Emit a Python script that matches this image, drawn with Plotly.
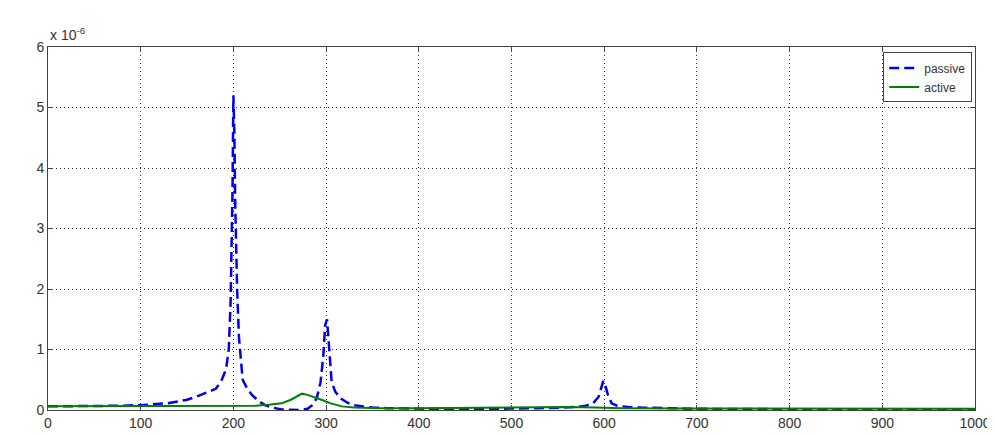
import plotly.graph_objects as go

# frequency axis values and responses (units of 1e-6)
passive_x = [0, 25, 50, 75, 100, 115, 128, 140, 150, 160, 170, 181, 187, 192, 195, 197, 199, 200, 201, 202, 204, 206, 210, 215, 220, 227, 234, 242, 252, 262, 272, 280, 285, 290, 294, 297, 299, 301, 303, 306, 310, 316, 323, 330, 340, 350, 366, 380, 400, 430, 460, 500, 530, 555, 570, 580, 588, 594, 597, 599, 601, 604, 608, 614, 620, 626, 640, 664, 680, 700, 750, 800, 900, 1000]
passive_y = [0.06, 0.06, 0.065, 0.07, 0.08, 0.09, 0.11, 0.14, 0.17, 0.22, 0.28, 0.35, 0.48, 0.67, 1.0, 1.8, 3.6, 5.2, 4.6, 3.4, 2.0, 1.2, 0.5, 0.35, 0.25, 0.15, 0.08, 0.04, 0.01, 0.0, 0.0, 0.02, 0.08, 0.2, 0.46, 0.9, 1.4, 1.5, 1.1, 0.46, 0.3, 0.19, 0.12, 0.08, 0.06, 0.04, 0.03, 0.025, 0.02, 0.015, 0.015, 0.02, 0.03, 0.04, 0.05, 0.07, 0.11, 0.22, 0.38, 0.48, 0.42, 0.25, 0.11, 0.07, 0.06, 0.05, 0.04, 0.03, 0.025, 0.02, 0.015, 0.012, 0.01, 0.01]

active_x = [0, 50, 100, 150, 200, 224, 240, 252, 262, 270, 274, 280, 288, 295, 305, 317, 330, 360, 400, 450, 500, 530, 560, 590, 620, 700, 800, 1000]
active_y = [0.06, 0.06, 0.06, 0.065, 0.065, 0.07, 0.09, 0.11, 0.17, 0.24, 0.27, 0.25, 0.21, 0.17, 0.11, 0.06, 0.04, 0.03, 0.03, 0.04, 0.05, 0.05, 0.05, 0.04, 0.03, 0.025, 0.02, 0.02]

x_ticks = [0, 100, 200, 300, 400, 500, 600, 700, 800, 900, 1000]
y_ticks = [0, 1, 2, 3, 4, 5, 6]

fig = go.Figure()
fig.add_trace(go.Scatter(x=passive_x, y=passive_y, mode="lines", name="passive",
                         line=dict(color="#0000ee", width=2.5, dash="10px,5px")))
fig.add_trace(go.Scatter(x=active_x, y=active_y, mode="lines", name="active",
                         line=dict(color="#008000", width=2)))

axis_common = dict(showline=True, linecolor="#444444", linewidth=1, mirror="ticks",
                   ticks="inside", ticklen=5, tickcolor="#444444",
                   showgrid=True, gridcolor="#333333", griddash="1px,3px", gridwidth=1,
                   zeroline=False, tickfont=dict(family="Liberation Sans, Arial", size=14, color="#333333"))

fig.update_layout(
    width=995, height=435,
    margin=dict(l=40, r=17, t=39, b=23),
    paper_bgcolor="white", plot_bgcolor="white",
    xaxis=dict(range=[0, 1000], tickvals=x_ticks, **axis_common),
    yaxis=dict(range=[0, 6], tickvals=y_ticks, **axis_common),
    legend=dict(x=0.997, y=0.985, xanchor="right", yanchor="top",
                bgcolor="white", bordercolor="#444444", borderwidth=1,
                font=dict(family="Liberation Sans, Arial", size=12, color="#333333"),
                tracegroupgap=0, itemwidth=30),
    showlegend=True,
    annotations=[dict(text="x 10<sup>-6</sup>", xref="paper", yref="paper",
                      x=0, y=1, xanchor="left", yanchor="bottom", yshift=2, showarrow=False,
                      font=dict(family="Liberation Sans, Arial", size=14, color="#333333"))],
)

fig.write_html("out.html")
